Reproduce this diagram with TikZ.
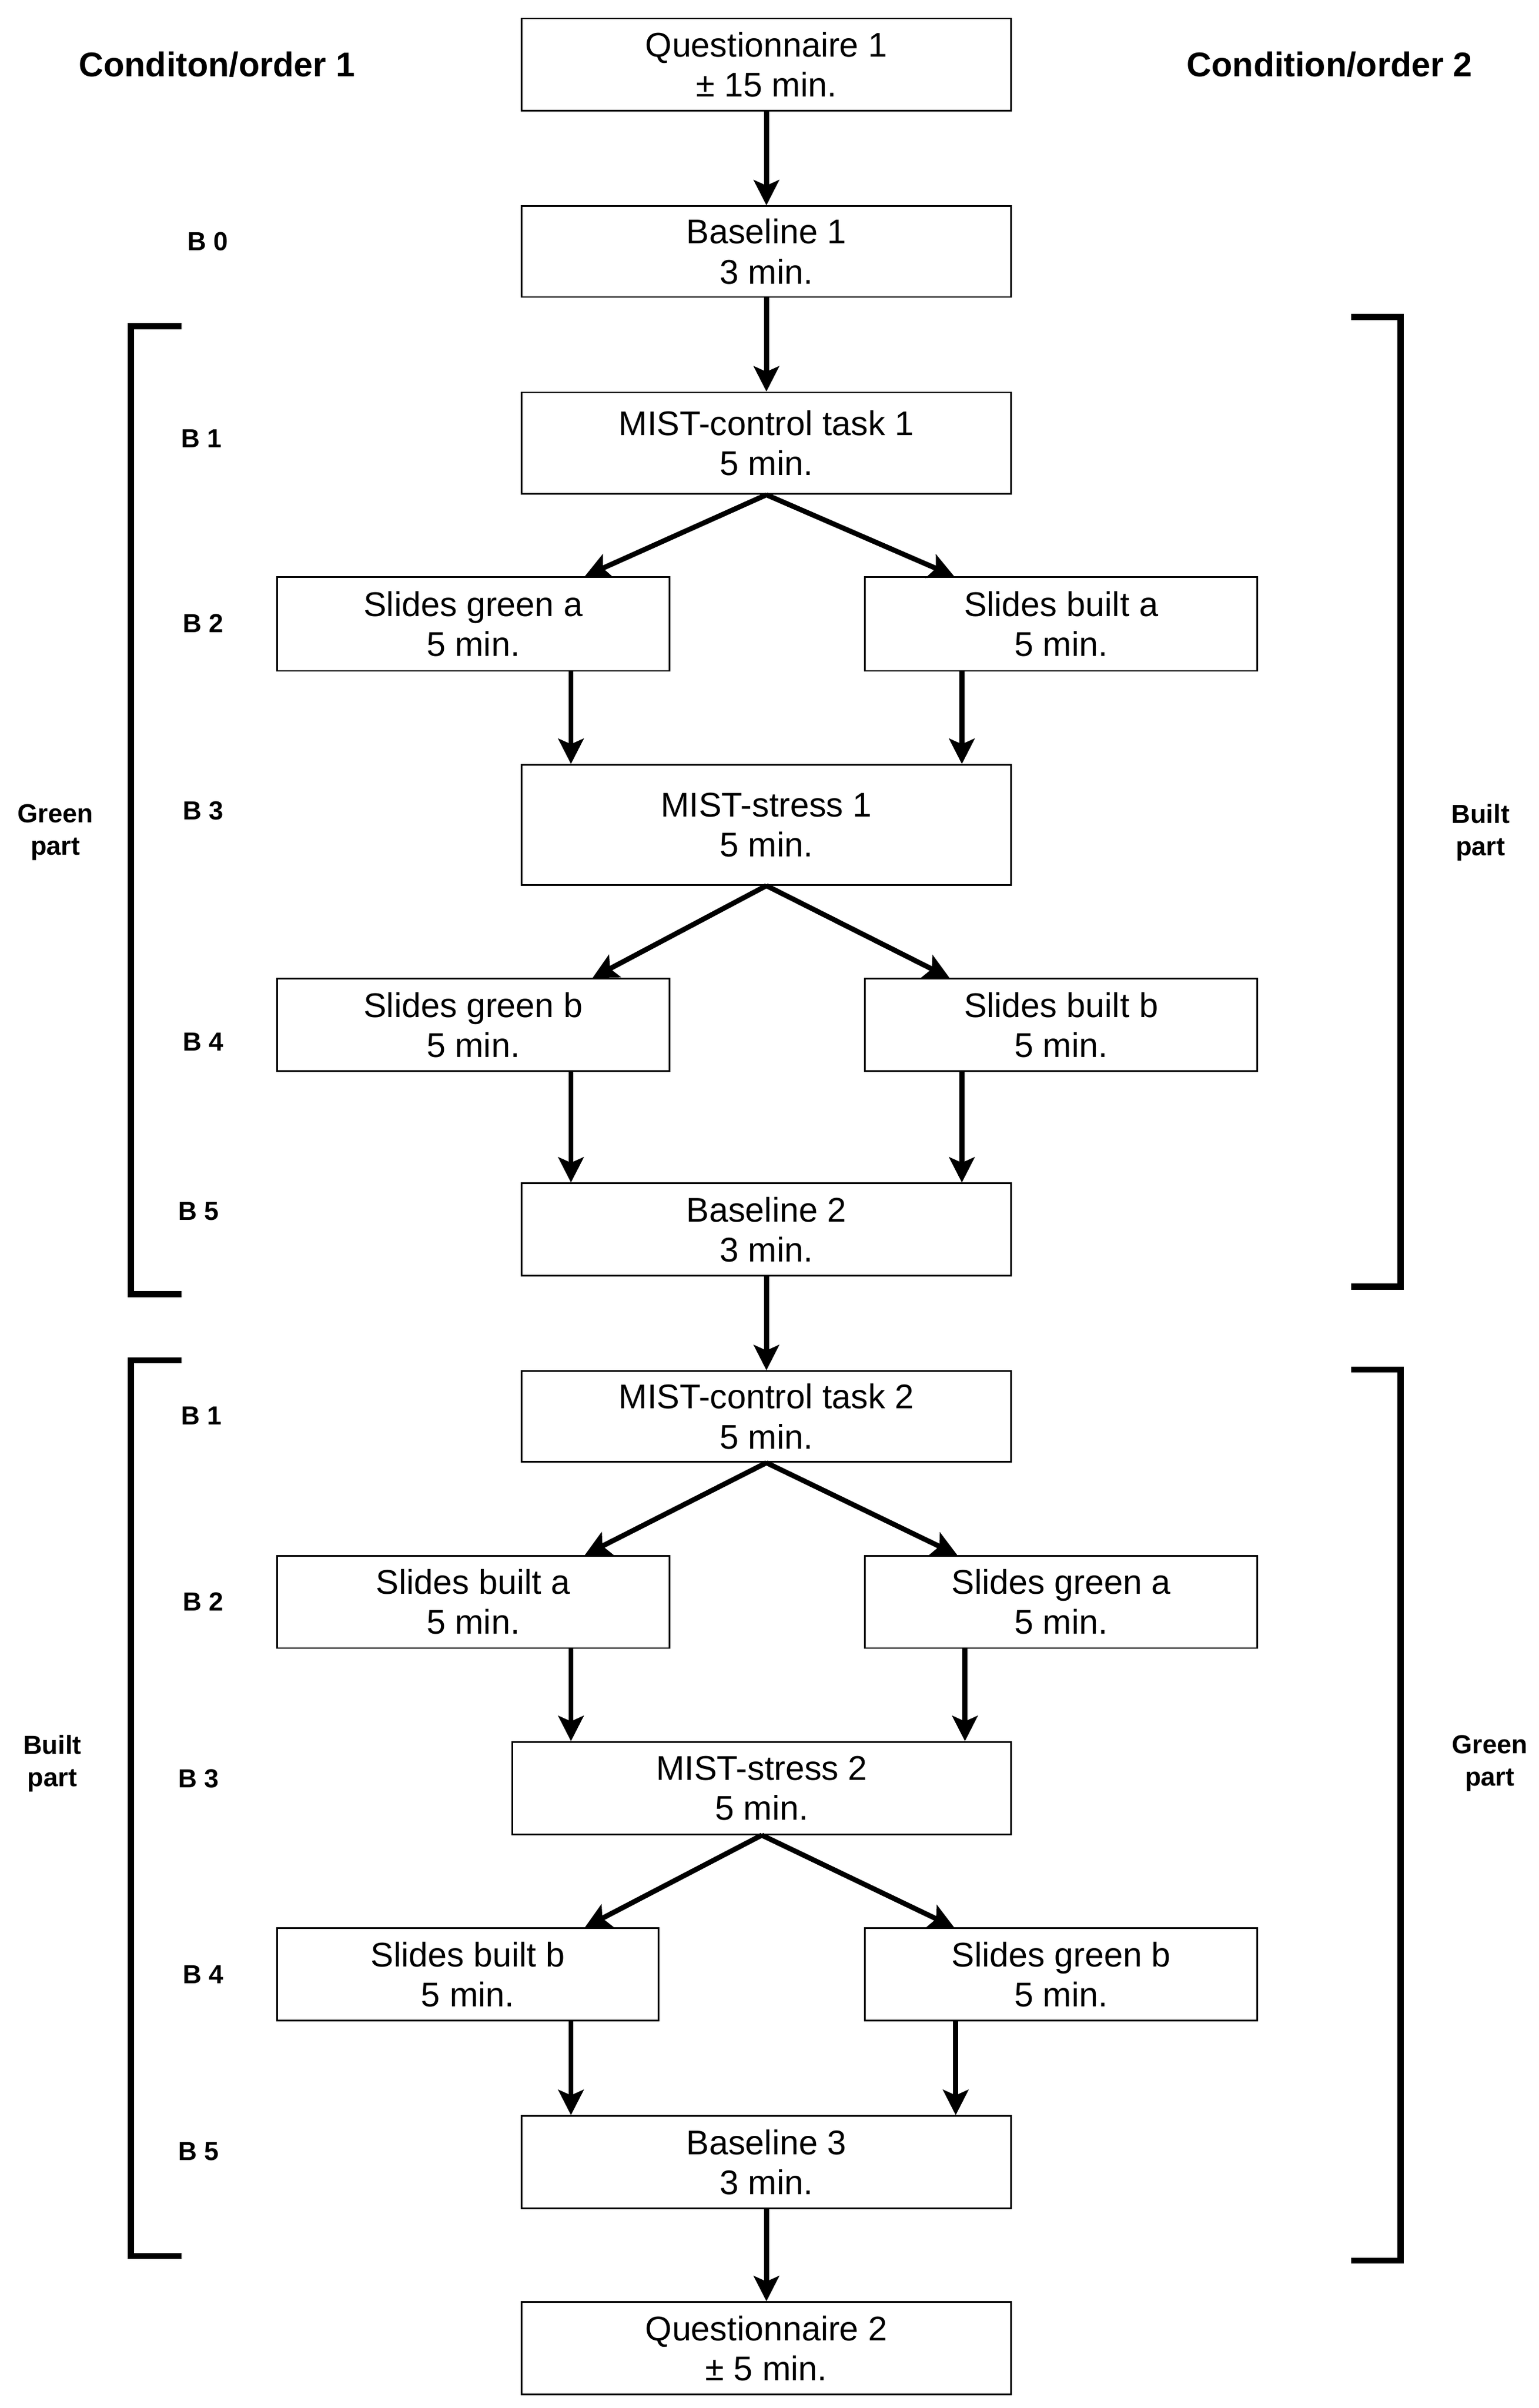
\documentclass[tikz,border=0pt]{standalone}
\usepackage{fontspec}
\setmainfont{Liberation Sans}
\usetikzlibrary{arrows.meta}
\def\u{0.03cm}
\tikzset{
  box/.style={draw, line width=0.9pt, inner sep=0pt, align=center,
    font=\fontsize{19}{22.2}\selectfont},
  arr/.style={line width=2.8pt, -{Stealth[length=14pt,width=14pt,inset=3pt]}},
  side/.style={font=\bfseries\fontsize{19}{22}\selectfont},
  blab/.style={font=\bfseries\fontsize{14.5}{18}\selectfont},
  part/.style={align=center, font=\bfseries\fontsize{14.5}{18}\selectfont},
  brk/.style={line width=3.4pt},
}
\begin{document}
\begin{tikzpicture}[x=\u, y=-\u]
\useasboundingbox (0,0) rectangle (1000,1564.8);
% boxes
\node[box, minimum width=318*\u, minimum height=60*\u] (q1) at (498,42) {Questionnaire 1\\± 15 min.};
\node[box, minimum width=318*\u, minimum height=59*\u] (bl1) at (498,163.5) {Baseline 1\\3 min.};
\node[box, minimum width=318*\u, minimum height=66*\u] (mc1) at (498,288) {MIST-control task 1\\5 min.};
\node[box, minimum width=255*\u, minimum height=61*\u] (sga1) at (307.5,405.5) {Slides green a\\5 min.};
\node[box, minimum width=255*\u, minimum height=61*\u] (sba1) at (689.5,405.5) {Slides built a\\5 min.};
\node[box, minimum width=318*\u, minimum height=78*\u] (ms1) at (498,536) {MIST-stress 1\\5 min.};
\node[box, minimum width=255*\u, minimum height=60*\u] (sgb1) at (307.5,666) {Slides green b\\5 min.};
\node[box, minimum width=255*\u, minimum height=60*\u] (sbb1) at (689.5,666) {Slides built b\\5 min.};
\node[box, minimum width=318*\u, minimum height=60*\u] (bl2) at (498,799) {Baseline 2\\3 min.};
\node[box, minimum width=318*\u, minimum height=59*\u] (mc2) at (498,920.5) {MIST-control task 2\\5 min.};
\node[box, minimum width=255*\u, minimum height=60*\u] (sba2) at (307.5,1041) {Slides built a\\5 min.};
\node[box, minimum width=255*\u, minimum height=60*\u] (sga2) at (689.5,1041) {Slides green a\\5 min.};
\node[box, minimum width=324*\u, minimum height=60*\u] (ms2) at (495,1162) {MIST-stress 2\\5 min.};
\node[box, minimum width=248*\u, minimum height=60*\u] (sbb2) at (304,1283) {Slides built b\\5 min.};
\node[box, minimum width=255*\u, minimum height=60*\u] (sgb2) at (689.5,1283) {Slides green b\\5 min.};
\node[box, minimum width=318*\u, minimum height=60*\u] (bl3) at (498,1405) {Baseline 3\\3 min.};
\node[box, minimum width=318*\u, minimum height=60*\u] (q2) at (498,1526) {Questionnaire 2\\± 5 min.};
% arrows
\draw[arr] (q1.south) -- (bl1.north);
\draw[arr] (bl1.south) -- (mc1.north);
\draw[arr] (mc1.south) -- ([xshift=72.5*\u]sga1.north);
\draw[arr] (mc1.south) -- ([xshift=-69.5*\u]sba1.north);
\draw[arr] ([xshift=63.5*\u]sga1.south) -- ([xshift=63.5*\u]sga1.south |- ms1.north);
\draw[arr] ([xshift=-64.5*\u]sba1.south) -- ([xshift=-64.5*\u]sba1.south |- ms1.north);
\draw[arr] (ms1.south) -- ([xshift=77.5*\u]sgb1.north);
\draw[arr] (ms1.south) -- ([xshift=-72.5*\u]sbb1.north);
\draw[arr] ([xshift=63.5*\u]sgb1.south) -- ([xshift=63.5*\u]sgb1.south |- bl2.north);
\draw[arr] ([xshift=-64.5*\u]sbb1.south) -- ([xshift=-64.5*\u]sbb1.south |- bl2.north);
\draw[arr] (bl2.south) -- (mc2.north);
\draw[arr] (mc2.south) -- ([xshift=72.5*\u]sba2.north);
\draw[arr] (mc2.south) -- ([xshift=-67.5*\u]sga2.north);
\draw[arr] ([xshift=63.5*\u]sba2.south) -- ([xshift=63.5*\u]sba2.south |- ms2.north);
\draw[arr] ([xshift=-62.5*\u]sga2.south) -- ([xshift=-62.5*\u]sga2.south |- ms2.north);
\draw[arr] (ms2.south) -- ([xshift=76*\u]sbb2.north);
\draw[arr] (ms2.south) -- ([xshift=-69.5*\u]sgb2.north);
\draw[arr] ([xshift=67*\u]sbb2.south) -- ([xshift=67*\u]sbb2.south |- bl3.north);
\draw[arr] ([xshift=-68.5*\u]sgb2.south) -- ([xshift=-68.5*\u]sgb2.south |- bl3.north);
\draw[arr] (bl3.south) -- (q2.north);
% brackets
\draw[brk] (118,212) -- (85,212) -- (85,841) -- (118,841);
\draw[brk] (878,206) -- (910,206) -- (910,836) -- (878,836);
\draw[brk] (118,884) -- (85,884) -- (85,1466) -- (118,1466);
\draw[brk] (878,890) -- (910,890) -- (910,1469) -- (878,1469);
% side labels
\node[side] (c1) at (141,42) {Conditon/order 1};
\node[side] (c2) at (864,42) {Condition/order 2};
\node[blab] (b0) at (135,157) {B 0};
\node[blab] (b1a) at (131,285) {B 1};
\node[blab] (b2a) at (132,405) {B 2};
\node[blab] (b3a) at (132,527) {B 3};
\node[blab] (b4a) at (132,677) {B 4};
\node[blab] (b5a) at (129,787) {B 5};
\node[blab] (b1b) at (131,920) {B 1};
\node[blab] (b2b) at (132,1041) {B 2};
\node[blab] (b3b) at (129,1156) {B 3};
\node[blab] (b4b) at (132,1283) {B 4};
\node[blab] (b5b) at (129,1398) {B 5};
\node[part] (gp1) at (36,541) {Green\\part};
\node[part] (bp1) at (962,541) {Built\\part};
\node[part] (bp2) at (34,1146) {Built\\part};
\node[part] (gp2) at (968,1146) {Green\\part};
\end{tikzpicture}
\end{document}
